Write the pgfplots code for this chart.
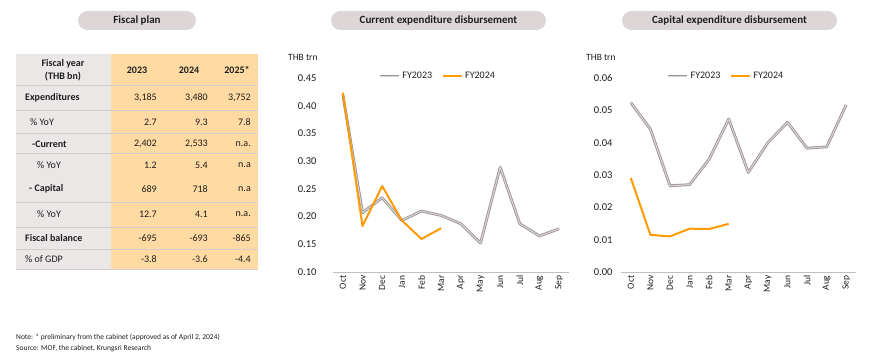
\documentclass[border=0pt]{standalone}
\usepackage{fontspec}
\setmainfont{Carlito}
\usepackage{pgfplots}
\pgfplotsset{compat=1.18}
\definecolor{pill}{HTML}{DDD6D6}
\definecolor{tgray}{HTML}{EBE7E7}
\definecolor{torange}{HTML}{FFDAA2}
\definecolor{sepc}{HTML}{D3CDCD}
\definecolor{gedge}{HTML}{9E9696}
\definecolor{ginner}{HTML}{DCD5D5}
\definecolor{orangeline}{HTML}{FF9A00}
\definecolor{txt}{HTML}{1E1E1E}
\definecolor{axisc}{HTML}{BFBFBF}
\pgfplotsset{
  myaxis/.style={
    scale only axis,
    anchor=south west,
    xmin=-0.5, xmax=11.5,
    xtick={0,1,2,3,4,5,6,7,8,9,10,11},
    xticklabels={Oct,Nov,Dec,Jan,Feb,Mar,Apr,May,Jun,Jul,Aug,Sep},
    xticklabel style={rotate=90, anchor=east, font=\fontsize{9.5}{11}\selectfont, text=txt},
    yticklabel style={font=\fontsize{10.5}{12}\selectfont, text=txt},
    scaled y ticks=false,
    /pgf/number format/assume math mode=true,
    yticklabel style={/pgf/number format/fixed, /pgf/number format/fixed zerofill, /pgf/number format/precision=2},
    axis x line*=bottom, axis y line*=left,
    x axis line style={draw=axisc, line width=0.8pt},
    y axis line style={draw=none},
    major tick length=0pt,
    legend columns=2,
    legend style={draw=none, fill=none, font=\fontsize{10}{12}\selectfont, text=txt, inner sep=0pt,
      /tikz/every even column/.append style={column sep=8pt}},
    legend image code/.code={\draw[##1] (0pt,0pt) -- (19pt,0pt);},
  },
  g23/.style={draw=gedge, double=ginner, double distance=1pt, line width=0.9pt, line join=round},
  o24/.style={draw=orangeline, line width=2pt, line join=round},
}
\begin{document}
\begin{tikzpicture}
\begin{scope}[x=1pt, y=-1pt]
\useasboundingbox (0,0) rectangle (870,363);
% title pills
\fill[pill, rounded corners=9.5pt] (78,11) rectangle (196,30);
\node[font=\fontsize{11}{13}\selectfont\bfseries, text=txt] at (137,20.5) {Fiscal plan};
\fill[pill, rounded corners=9.5pt] (331,11) rectangle (546,30);
\node[font=\fontsize{11}{13}\selectfont\bfseries, text=txt] at (438.5,20.5) {Current expenditure disbursement};
\fill[pill, rounded corners=9.5pt] (622,11) rectangle (837,30);
\node[font=\fontsize{11}{13}\selectfont\bfseries, text=txt] at (729.5,20.5) {Capital expenditure disbursement};
% table
\fill[tgray] (16,54) rectangle (111,269);
\fill[torange] (111,54) rectangle (258,269);
\foreach \yy in {85,110,133,153,202,227,249,269} \draw[sepc, line width=0.8pt] (16,\yy) -- (258,\yy);
\begin{scope}[every node/.style={font=\fontsize{10}{12.5}\selectfont, text=txt, inner sep=0pt}]
\node[align=center, font=\fontsize{10}{12.7}\selectfont\bfseries] at (63,70) {Fiscal year\\(THB bn)};
\node[font=\fontsize{10}{12}\selectfont\bfseries] at (137,70) {2023};
\node[font=\fontsize{10}{12}\selectfont\bfseries] at (189,70) {2024};
\node[font=\fontsize{10}{12}\selectfont\bfseries] at (237,70) {2025*};
\node[anchor=west, font=\fontsize{10}{12}\selectfont\bfseries] at (25,98) {Expenditures};
\node[anchor=east] at (157,98) {3,185};
\node[anchor=east] at (208,98) {3,480};
\node[anchor=east] at (251,98) {3,752};
\node[anchor=west] at (30,122) {\% YoY};
\node[anchor=east] at (157,122) {2.7};
\node[anchor=east] at (208,122) {9.3};
\node[anchor=east] at (251,122) {7.8};
\node[anchor=west, font=\fontsize{10}{12}\selectfont\bfseries] at (32,144) {-Current};
\node[anchor=east] at (157,144) {2,402};
\node[anchor=east] at (208,144) {2,533};
\node[anchor=east] at (251,144) {n.a.};
\node[anchor=west] at (37,165) {\% YoY};
\node[anchor=east] at (157,165) {1.2};
\node[anchor=east] at (208,165) {5.4};
\node[anchor=east] at (251,165) {n.a};
\node[anchor=west, font=\fontsize{10}{12}\selectfont\bfseries] at (29,189) {- Capital};
\node[anchor=east] at (157,189) {689};
\node[anchor=east] at (208,189) {718};
\node[anchor=east] at (251,189) {n.a};
\node[anchor=west] at (37,214) {\% YoY};
\node[anchor=east] at (157,214) {12.7};
\node[anchor=east] at (208,214) {4.1};
\node[anchor=east] at (251,214) {n.a.};
\node[anchor=west, font=\fontsize{10}{12}\selectfont\bfseries] at (25,238) {Fiscal balance};
\node[anchor=east] at (157,238) {-695};
\node[anchor=east] at (208,238) {-693};
\node[anchor=east] at (251,238) {-865};
\node[anchor=west] at (25,259) {\% of GDP};
\node[anchor=east] at (157,259) {-3.8};
\node[anchor=east] at (208,259) {-3.6};
\node[anchor=east] at (251,259) {-4.4};
\end{scope}
% notes
\node[anchor=west, inner sep=0pt, font=\fontsize{7.5}{9}\selectfont, text=txt] at (16,337) {Note: * preliminary from the cabinet (approved as of April 2, 2024)};
\node[anchor=west, inner sep=0pt, font=\fontsize{7.5}{9}\selectfont, text=txt] at (16,349) {Source: MOF, the cabinet, Krungsri Research};
% units
\node[anchor=west, inner sep=0pt, font=\fontsize{9.5}{11}\selectfont, text=txt] at (288,57) {THB trn};
\node[anchor=west, inner sep=0pt, font=\fontsize{9.5}{11}\selectfont, text=txt] at (586,57) {THB trn};
\end{scope}

% current expenditure
\begin{axis}[myaxis, at={(333pt,-272pt)}, width=236pt, height=194pt,
  ymin=0.10, ymax=0.45, ytick={0.10,0.15,0.20,0.25,0.30,0.35,0.40,0.45},
  yticklabel style={xshift=-13pt},
  legend style={at={(0.444,1.01)}, anchor=center}]
\addplot[g23] coordinates {(0,0.420) (1,0.207) (2,0.234) (3,0.193) (4,0.210) (5,0.202) (6,0.187) (7,0.152) (8,0.289) (9,0.187) (10,0.165) (11,0.178)};
\addlegendentry{FY2023}
\addplot[o24] coordinates {(0,0.4235) (1,0.183) (2,0.255) (3,0.193) (4,0.1595) (5,0.179)};
\addlegendentry{FY2024}
\end{axis}

% capital expenditure
\begin{axis}[myaxis, at={(621pt,-272pt)}, width=235pt, height=194pt,
  ymin=0, ymax=0.06, ytick={0,0.01,0.02,0.03,0.04,0.05,0.06},
  yticklabel style={xshift=-5pt},
  legend style={at={(0.447,1.01)}, anchor=center}]
\addplot[g23] coordinates {(0,0.0524) (1,0.0442) (2,0.0267) (3,0.0270) (4,0.0349) (5,0.0473) (6,0.0308) (7,0.0400) (8,0.0463) (9,0.0383) (10,0.0387) (11,0.0517)};
\addlegendentry{FY2023}
\addplot[o24] coordinates {(0,0.0291) (1,0.0115) (2,0.0110) (3,0.0134) (4,0.0133) (5,0.0149)};
\addlegendentry{FY2024}
\end{axis}
\end{tikzpicture}
\end{document}
